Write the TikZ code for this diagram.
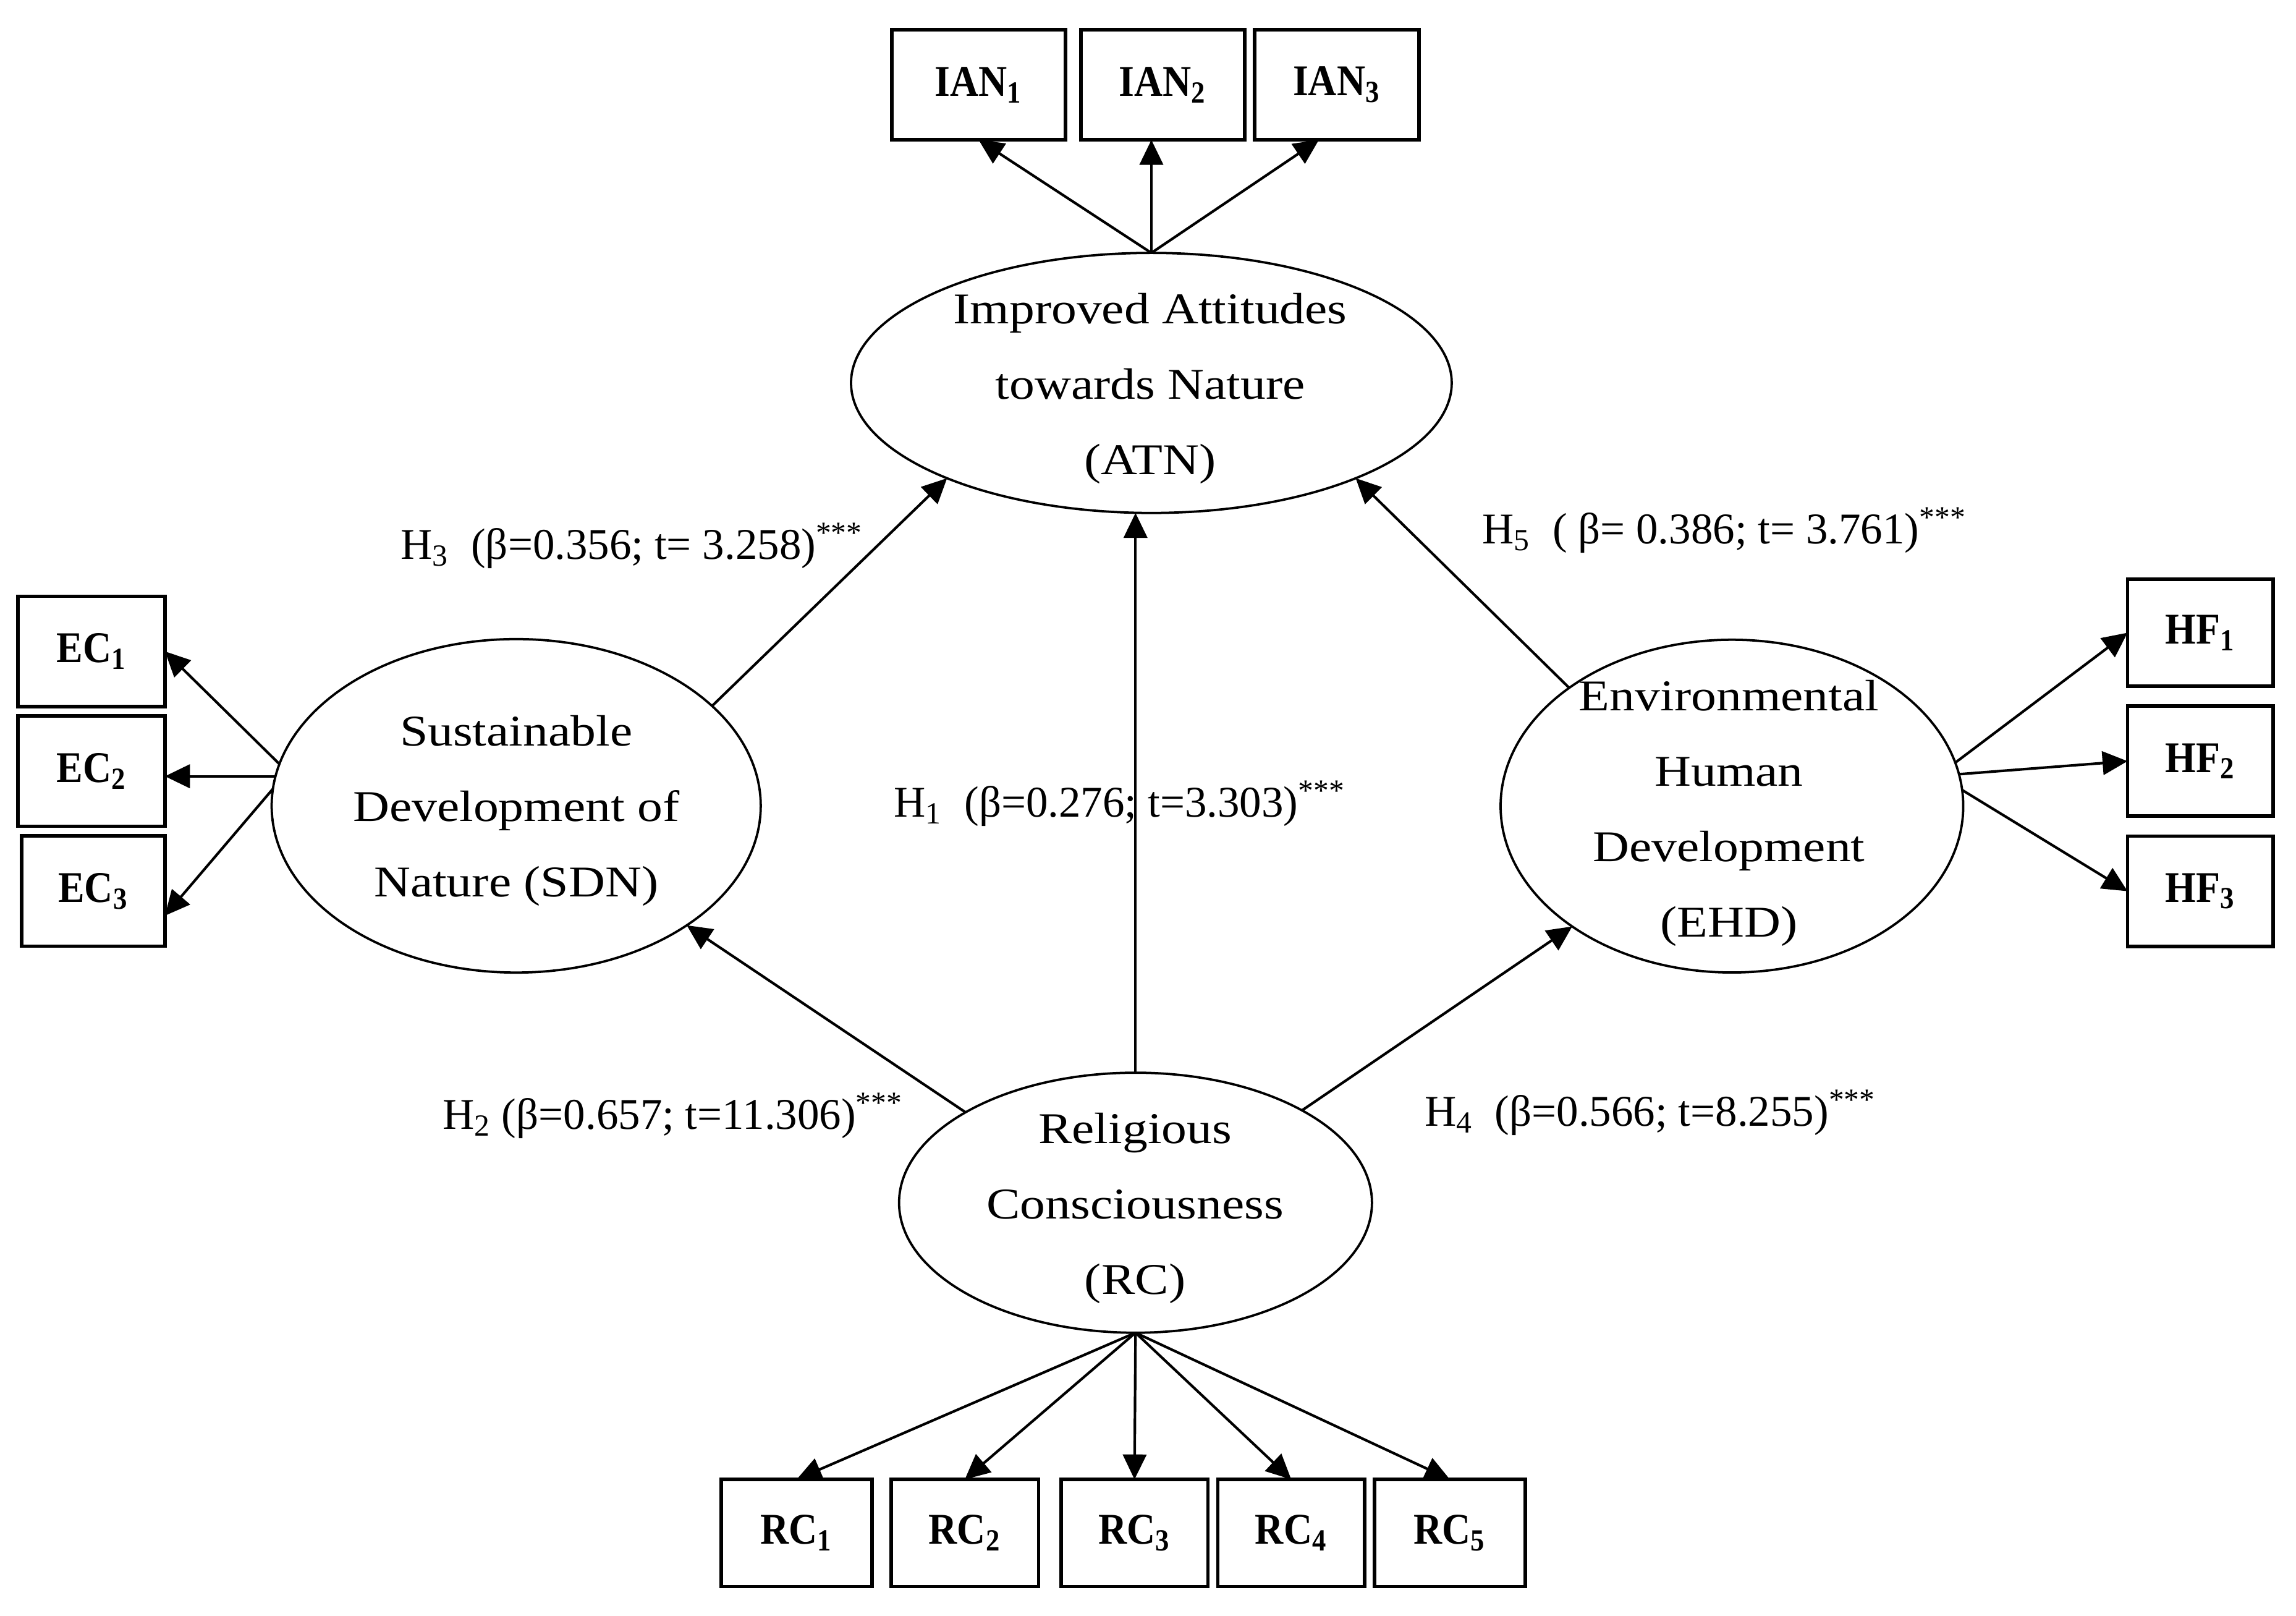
\documentclass[tikz,border=0pt]{standalone}
\usepackage{fontspec}
\setmainfont{Liberation Serif}
\newfontfamily\latfont[FakeStretch=1.15]{Liberation Serif}
\newfontfamily\indfont[FakeStretch=0.9]{Liberation Serif}
\usetikzlibrary{arrows.meta,shapes.geometric}
\tikzset{
  latent/.style={draw, ellipse, line width=0.9pt, inner sep=0pt, outer sep=0pt},
  lattext/.style={align=center, inner sep=0pt, font=\latfont\fontsize{17}{29.2}\selectfont},
  indbox/.style={draw, rectangle, line width=1.4pt, inner sep=0pt, outer sep=0pt,
     minimum width=2cm, minimum height=1.5cm, font=\indfont\bfseries\fontsize{17}{20}\selectfont},
  hyplabel/.style={anchor=base west, inner sep=0pt, font=\fontsize{17}{20}\selectfont},
  arr/.style={line width=1pt, -{Triangle[length=3.4mm,width=3.2mm]}},
}

\begin{document}
\begin{tikzpicture}[x=0.02cm, y=-0.02cm]
   % \draw[step=100,gray,very thin] (0,0) grid (1563,1099);
    \useasboundingbox (0,0) rectangle (1563,1099.4);
    % latent variables
    \node[latent, minimum width=8.18cm, minimum height=3.54cm] (ATN) at (783.8,260.6) {};
    \node[latent, minimum width=6.66cm, minimum height=4.54cm] (SDN) at (351.4,548.4) {};
    \node[latent, minimum width=6.30cm, minimum height=4.53cm] (EHD) at (1179,548.6) {};
    \node[latent, minimum width=6.44cm, minimum height=3.54cm] (RC) at (773,818.5) {};
    \node[lattext] (ATNt) at (783,264.4) {Improved Attitudes\\towards Nature\\(ATN)};
    \node[lattext] (SDNt) at (351.4,551.7) {Sustainable\\Development of\\Nature (SDN)};
    \node[lattext] (EHDt) at (1177,553.5) {Environmental\\Human\\Development\\(EHD)};
    \node[lattext] (RCt) at (772.7,822.2) {Religious\\Consciousness\\(RC)};
    % indicators
    \node[indbox, minimum width=2.37cm] (IAN1) at (666.2,57.7) {IAN\textsubscript{1}};
    \node[indbox, minimum width=2.23cm] (IAN2) at (791.6,57.7) {IAN\textsubscript{2}};
    \node[indbox, minimum width=2.24cm] (IAN3) at (910,57.7) {IAN\textsubscript{3}};
    \node[indbox] (EC1) at (62.3,443.3) {EC\textsubscript{1}};
    \node[indbox] (EC2) at (62.3,524.8) {EC\textsubscript{2}};
    \node[indbox, minimum width=1.95cm] (EC3) at (63.5,606.4) {EC\textsubscript{3}};
    \node[indbox, minimum width=1.98cm, minimum height=1.46cm] (HF1) at (1497.8,430.6) {HF\textsubscript{1}};
    \node[indbox, minimum width=1.98cm] (HF2) at (1497.8,518) {HF\textsubscript{2}};
    \node[indbox, minimum width=1.98cm] (HF3) at (1497.8,606.5) {HF\textsubscript{3}};
    \node[indbox, minimum width=2.05cm, minimum height=1.46cm] (rc1) at (542.3,1043.3) {RC\textsubscript{1}};
    \node[indbox, minimum width=2.01cm, minimum height=1.46cm] (rc2) at (656.8,1043.3) {RC\textsubscript{2}};
    \node[indbox, minimum width=2.00cm, minimum height=1.46cm] (rc3) at (772.3,1043.3) {RC\textsubscript{3}};
    \node[indbox, minimum width=2.00cm, minimum height=1.46cm] (rc4) at (879,1043.3) {RC\textsubscript{4}};
    \node[indbox, minimum width=2.05cm, minimum height=1.46cm] (rc5) at (987,1043.3) {RC\textsubscript{5}};
    % loadings
    \draw[arr] (ATN.north) -- (IAN1.south);
    \draw[arr] (ATN.north) -- (ATN.north |- IAN2.south);
    \draw[arr] (ATN.north) -- (IAN3.-108);
    \draw[arr] (SDN.170) -- (EC1.east);
    \draw[arr] (SDN.173) -- (SDN.173 -| EC2.east);
    \draw[arr] (SDN.176) -- (EC3.-19);
    \draw[arr] (EHD.11) -- (HF1.west);
    \draw[arr] (EHD.8) -- (HF2.west);
    \draw[arr] (EHD.4) -- (HF3.west);
    \foreach \i in {1,...,5}
        \draw[arr] (RC.south) -- (rc\i.north);
    % paths
    \draw[arr] (SDN.27) -- (ATN.205);
    \draw[arr] (EHD.144) -- (ATN.-25);
    \draw[arr] (RC.north) -- (RC.north |- ATN.south);
    \draw[arr] (RC.152) -- (SDN.-35);
    \draw[arr] (RC.29) -- (EHD.217);
    \node[hyplabel] (H3) at (272.5,380.7) {H\textsubscript{3}~ (β=0.356; t= 3.258)\textsuperscript{***}};
    \node[hyplabel] (H5) at (1008.7,369.9) {H\textsubscript{5}~ ( β= 0.386; t= 3.761)\textsuperscript{***}};
    \node[hyplabel] (H1) at (608.3,556) {H\textsubscript{1}~ (β=0.276; t=3.303)\textsuperscript{***}};
    \node[hyplabel] (H2) at (300.9,768.4) {H\textsubscript{2} (β=0.657; t=11.306)\textsuperscript{***}};
    \node[hyplabel] (H4) at (969.5,766.3) {H\textsubscript{4}~ (β=0.566; t=8.255)\textsuperscript{***}};
\end{tikzpicture}
\end{document}
